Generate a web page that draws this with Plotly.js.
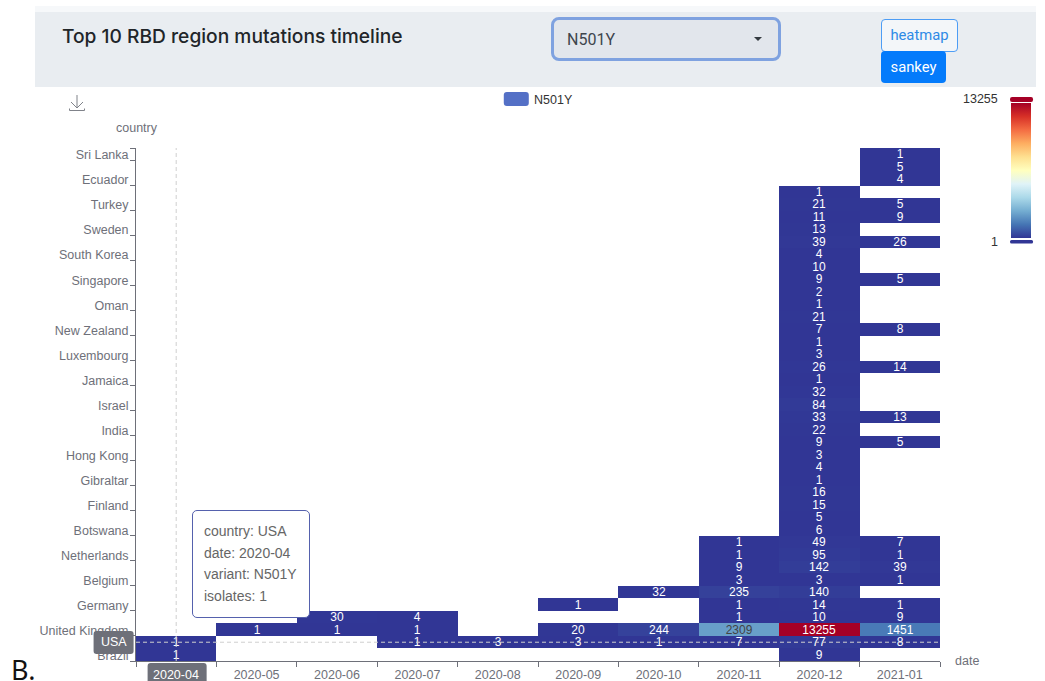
<!DOCTYPE html>
<html><head><meta charset="utf-8">
<script src="https://cdn.plot.ly/plotly-3.0.1.min.js"></script>
<style>
html,body{margin:0;padding:0;background:#fff;width:1045px;height:681px;overflow:hidden;font-family:"Liberation Sans",sans-serif}
#chart{position:absolute;left:0;top:0;width:1045px;height:681px}
.ui{position:absolute;box-sizing:border-box}
#tip{left:192px;top:510px;width:118px;height:108px;background:#fff;border:1.3px solid #5561ad;border-radius:5px;font-family:"Liberation Sans",sans-serif;font-size:14px;line-height:21.7px;color:#666;padding:10px 0 0 11px;white-space:nowrap}
#panel-label{left:11px;top:658px;font-family:"Noto Sans",sans-serif;font-size:27px;line-height:23px;color:#111}
</style></head><body>
<div id="chart"></div>
<div class="ui" style="left:35px;top:6px;width:1001px;height:6px;background:#f6f8fa"></div>
<div class="ui" style="left:35px;top:12px;width:1001px;height:75px;background:#e9edf1"></div>
<div class="ui" style="left:62px;top:24px;font:500 19.2px Inter,sans-serif;color:#212529;white-space:nowrap">Top 10 RBD region mutations timeline</div>
<div class="ui" style="left:551px;top:17px;width:230px;height:44px;background:#e2e6ec;border:3px solid #7fa2e0;border-radius:8px;font:16px Roboto,sans-serif;color:#3e454c;padding:10px 0 0 13px">N501Y
  <span style="position:absolute;right:16px;top:17px;width:0;height:0;border-left:4px solid transparent;border-right:4px solid transparent;border-top:4px solid #343a40"></span></div>
<div class="ui" style="left:881px;top:19px;width:77px;height:33px;background:#f3f6f9;border:1.5px solid #4d9df5;border-radius:4px;font:14.8px Roboto,sans-serif;color:#2e8ae6;text-align:center;line-height:30px">heatmap</div>
<div class="ui" style="left:881px;top:51px;width:65px;height:32px;background:#047bfb;border-radius:4px;font:14.8px Roboto,sans-serif;color:#fff;text-align:center;line-height:32px">sankey</div>
<svg class="ui" style="left:66px;top:94px" width="22" height="20" fill="none" stroke="#80838a" stroke-width="1"><path d="M11 1V14M5 8L11 14L17 8M3.5 14.5V16.5H18.5V14.5"/></svg>
<div class="ui" id="tip">country: USA<br>date: 2020-04<br>variant: N501Y<br>isolates: 1</div>
<div class="ui" id="panel-label">B.</div>
<script>
// months on the x axis
const months = ["2020-04","2020-05","2020-06","2020-07","2020-08","2020-09","2020-10","2020-11","2020-12","2021-01"];
// labelled rows: every second row, counted from the bottom
const labelledCountries = ["Brazil","United Kingdom","Germany","Belgium","Netherlands","Botswana","Finland","Gibraltar","Hong Kong","India","Israel","Jamaica","Luxembourg","New Zealand","Oman","Singapore","South Korea","Sweden","Turkey","Ecuador","Sri Lanka"];
const rowCount = 41;
const n = null;
// isolates per month, row 0 (Brazil) upward
const apr20 = [1,1];
const may20 = [n,n,1];
const jun20 = [n,n,1,30];
const jul20 = [n,1,1,4];
const aug20 = [n,3];
const sep20 = [n,3,20,n,1];
const oct20 = [n,1,244,n,n,32];
const nov20 = [n,7,2309,1,1,235,3,9,1,1];
const dec20 = [9,77,13255,10,14,140,3,142,95,49,6,5,15,16,1,4,3,9,22,33,84,32,1,26,3,1,7,21,1,2,9,10,4,39,13,11,21,1];
const jan21 = [n,8,1451,9,1,n,1,39,1,7,n,n,n,n,n,n,n,5,n,13,n,n,n,14,n,n,8,n,n,n,5,n,n,26,n,9,5,n,4,5,1];
const columns = [apr20,may20,jun20,jul20,aug20,sep20,oct20,nov20,dec20,jan21];
const hoverRow = 1, hoverRowName = "USA", hoverMonth = "2020-04";
const variant = "N501Y";
const valueMin = 1, valueMax = 13255;
const palette = ["#313695","#4575b4","#74add1","#abd9e9","#e0f3f8","#ffffbf","#fee090","#fdae61","#f46d43","#d73027","#a50026"];

const rows = Array.from({length:rowCount},(_,i)=>i);
const z = rows.map(r=>columns.map(c=>c[r]===undefined?null:c[r]));
const W=1045,H=681,L=136.4,R=940,T=148,B=661;
const px=x=>(x-L)/(R-L), py=y=>(B-y)/(B-T);
const grey="#6e7079";
const rrect=(x0,y0,x1,y1,r)=>{const X=px,Y=py;
  return `M${X(x0+r)},${Y(y0)}L${X(x1-r)},${Y(y0)}Q${X(x1)},${Y(y0)} ${X(x1)},${Y(y0+r)}L${X(x1)},${Y(y1-r)}Q${X(x1)},${Y(y1)} ${X(x1-r)},${Y(y1)}L${X(x0+r)},${Y(y1)}Q${X(x0)},${Y(y1)} ${X(x0)},${Y(y1-r)}L${X(x0)},${Y(y0+r)}Q${X(x0)},${Y(y0)} ${X(x0+r)},${Y(y0)}Z`;};
const pshape=(x0,y0,x1,y1,r,c)=>({type:"path",xref:"paper",yref:"paper",path:rrect(x0,y0,x1,y1,r),fillcolor:c,line:{width:0},layer:"above"});
const note=(x,y,text,extra)=>Object.assign({xref:"paper",yref:"paper",x:px(x),y:py(y),text:String(text),showarrow:false,font:{size:12.5,color:grey,family:"Liberation Sans"},xanchor:"left",yanchor:"middle"},extra||{});
const labelNudge = 0.06;

Plotly.newPlot("chart",[{
  type:"heatmap",x:months,y:rows,z:z,
  colorscale:palette.map((c,i)=>[i/(palette.length-1),c]),
  zmin:valueMin,zmax:valueMax,
  texttemplate:"%{z:d}",textfont:{size:12,family:"Liberation Sans"},
  hoverongaps:false,
  colorbar:{xref:"paper",yref:"paper",x:px(1011),y:py(103),xanchor:"left",yanchor:"top",
    lenmode:"pixels",len:135,thicknessmode:"pixels",thickness:20,xpad:0,ypad:0,outlinewidth:0,
    ticks:"",showticklabels:false}
}],{
  width:W,height:H,paper_bgcolor:"rgba(0,0,0,0)",plot_bgcolor:"rgba(0,0,0,0)",
  margin:{l:L,r:W-R,t:T,b:H-B,pad:0,autoexpand:false},
  font:{family:"Liberation Sans",size:12,color:grey},
  showlegend:false,
  xaxis:{type:"category",categoryorder:"array",categoryarray:months,range:[-0.5,months.length-0.5],
    tickmode:"array",tickvals:months,ticktext:months.map(m=>m===hoverMonth?" ":m),
    showgrid:false,zeroline:false,showline:true,linecolor:grey,linewidth:1,ticks:"",ticklen:0,
    ticklabelstandoff:2,tickfont:{size:12.5,color:grey},
    minor:{tickvals:months.map((_,i)=>i-0.5).concat([months.length-0.5]),ticks:"outside",ticklen:5,tickcolor:grey,tickwidth:1,showgrid:false}},
  yaxis:{range:[-0.5,rowCount-0.5],tickmode:"array",
    tickvals:labelledCountries.map((_,i)=>i*2-labelNudge),ticktext:labelledCountries,
    showgrid:false,zeroline:false,showline:true,linecolor:grey,linewidth:1,ticks:"",ticklen:0,
    ticklabelstandoff:4,tickfont:{size:12.5,color:grey},
    minor:{tickvals:labelledCountries.map((_,i)=>i*2-0.5).concat([rowCount-0.5]),ticks:"outside",ticklen:5,tickcolor:grey,tickwidth:1,showgrid:false}},
  shapes:[
    {type:"line",xref:"x",yref:"paper",x0:hoverMonth,x1:hoverMonth,y0:0,y1:1,line:{color:"#cfcfcf",width:1,dash:"4px,3px"},layer:"above"},
    {type:"line",xref:"paper",yref:"y",x0:0,x1:1,y0:hoverRow,y1:hoverRow,line:{color:"#cfcfcf",width:1,dash:"4px,3px"},layer:"above"},
    pshape(504,92,529,106,3,"#5470c6"),
    pshape(1010,97,1033,102,2,palette[palette.length-1]),
    pshape(1010,240,1033,243.5,1.5,palette[0]),
    pshape(94,631,134,654,3,grey),
    pshape(148,663,207,684,3,grey)
  ],
  annotations:[
    note(532,100,variant,{font:{size:12.5,color:"#333",family:"Liberation Sans"}}),
    note(114,128,"country"),
    note(953,661,"date"),
    note(1000,99.5,valueMax,{xanchor:"right",font:{size:12.5,color:"#333",family:"Liberation Sans"}}),
    note(1000,242,valueMin,{xanchor:"right",font:{size:12.5,color:"#333",family:"Liberation Sans"}}),
    {xref:"paper",yref:"y",x:px(114),y:hoverRow,text:hoverRowName,showarrow:false,xanchor:"center",yanchor:"middle",font:{size:12.5,color:"#fff",family:"Liberation Sans"}},
    {xref:"x",yref:"paper",x:hoverMonth,y:py(675),text:hoverMonth,showarrow:false,xanchor:"center",yanchor:"middle",font:{size:12.5,color:"#fff",family:"Liberation Sans"}}
  ]
},{displayModeBar:false,staticPlot:true});
</script>
</body></html>
